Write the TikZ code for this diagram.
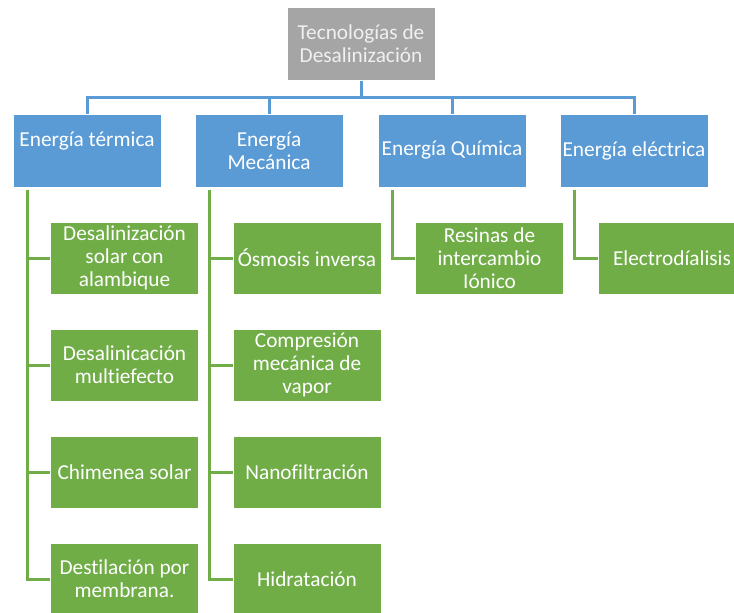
\documentclass[tikz,border=0pt]{standalone}
\usepackage{fontspec}
\setmainfont[Ligatures=NoCommon]{Carlito}
\definecolor{rootgray}{HTML}{A5A5A5}
\definecolor{lvlblue}{HTML}{5B9BD5}
\definecolor{lvlgreen}{HTML}{70AD47}
\begin{document}
\begin{tikzpicture}[x=1pt,y=-1pt,
  box/.style={draw=white,line width=1pt,inner sep=0pt,minimum width=148pt,minimum height=73pt,
    align=center,text=white,font=\fontsize{21.3pt}{23.3pt}\selectfont},
  rootbox/.style={box,fill=rootgray,text=white!94!black},
  catbox/.style={box,fill=lvlblue},
  leafbox/.style={box,fill=lvlgreen,minimum height=72pt},
  blueline/.style={draw=lvlblue,line width=3pt},
  greenline/.style={draw=lvlgreen,line width=3pt}]
\useasboundingbox (0,0) rectangle (734,613);
\coordinate (bus) at (361,97);
% nodes
\node[rootbox] (root) at (361,43.5) {Tecnologías de\\Desalinización};
\node[catbox] (ter) at (87,150.5) {Energía térmica\\\phantom{X}};
\node[catbox] (mec) at (269,150.5) {Energía\\Mecánica};
\node[catbox] (qui) at (452,150.5) {Energía Química};
\node[catbox] (ele) at (634,150.5) {Energía eléctrica};
\node[leafbox] (t1) at (124.5,258) {Desalinización\\solar con\\alambique};
\node[leafbox] (t2) at (124.5,365) {Desalinicación\\multiefecto};
\node[leafbox] (t3) at (124.5,472) {Chimenea solar};
\node[leafbox] (t4) at (124.5,579) {Destilación por\\membrana.};
\node[leafbox] (m1) at (307,258) {Ósmosis inversa};
\node[leafbox] (m2) at (307,365) {Compresión\\mecánica de\\vapor};
\node[leafbox] (m3) at (307,472) {Nanofiltración};
\node[leafbox] (m4) at (307,579) {Hidratación};
\node[leafbox] (q1) at (489.5,258) {Resinas de\\intercambio\\Iónico};
\node[leafbox] (e1) at (672,258) {Electrodíalisis};
% blue connectors
\draw[blueline] (root.south) -- (bus);
\draw[blueline] (ter.north) -- (ter.north |- bus) -- (ele.north |- bus) -- (ele.north);
\draw[blueline] (mec.north) -- (mec.north |- bus);
\draw[blueline] (qui.north) -- (qui.north |- bus);
% green connectors
\foreach \c in {t1,t2,t3,t4} {\draw[greenline] ([xshift=-60pt,yshift=-2pt]ter.south) |- (\c.west);}
\foreach \c in {m1,m2,m3,m4} {\draw[greenline] ([xshift=-60pt,yshift=-2pt]mec.south) |- (\c.west);}
\draw[greenline] ([xshift=-60pt,yshift=-2pt]qui.south) |- (q1.west);
\draw[greenline] ([xshift=-60pt,yshift=-2pt]ele.south) |- (e1.west);
\end{tikzpicture}
\end{document}
